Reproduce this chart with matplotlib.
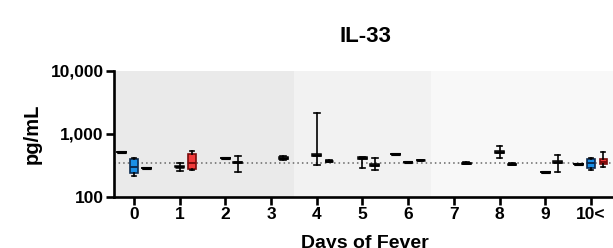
import matplotlib
matplotlib.use('Agg')
import matplotlib.pyplot as plt

plt.rcParams['font.family'] = ['Liberation Sans', 'DejaVu Sans']
plt.rcParams['font.weight'] = 'bold'

days = ['0', '1', '2', '3', '4', '5', '6', '7', '8', '9', '10<']
ref_line = 339

# one entry per box: day index, slot (-1 left, 0 centre, 1 right), colour
box_day = [0, 0, 0, 1, 1, 2, 2, 3, 4, 4, 5, 5, 6, 6, 6, 7, 8, 8, 9, 9, 10, 10, 10]
box_slot = [-1, 0, 1, 0, 1, 0, 1, 1, 0, 1, 0, 1, -1, 0, 1, 1, 0, 1, 0, 1, -1, 0, 1]
box_col = ['k', 'blue', 'k', 'k', 'red', 'k', 'k', 'k', 'k', 'k', 'k', 'k',
           'k', 'k', 'k', 'k', 'k', 'k', 'k', 'k', 'k', 'blue', 'red']
lo = [518, 215, 282, 259, 261, 416, 247, 380, 315, 360, 282, 262,
      471, 351, 365, 330, 407, 318, 249, 244, 327, 265, 300]
q1 = [518, 235, 282, 292, 272, 416, 340, 395, 445, 364, 395, 305,
      471, 351, 378, 336, 500, 323, 249, 340, 327, 282, 327]
med = [518, 300, 282, 300, 339, 416, 351, 407, 459, 369, 415, 315,
       471, 351, 383, 339, 518, 327, 249, 351, 327, 339, 359]
q3 = [518, 393, 282, 308, 476, 416, 360, 420, 475, 374, 420, 325,
      471, 351, 386, 343, 540, 331, 249, 362, 327, 393, 393]
hi = [518, 411, 282, 347, 537, 416, 443, 435, 2110, 378, 422, 410,
      471, 351, 388, 350, 638, 340, 249, 459, 327, 416, 505]

fill = {'k': 'white', 'blue': '#1a8fe6', 'red': '#f03a3a'}
edge = {'k': 'black', 'blue': '#0a2a50', 'red': '#7a0a0a'}

fig = plt.figure(figsize=(6.13, 2.48), dpi=100)
ax = fig.add_axes([0.186, 0.207, 0.8196, 0.508])

ax.axvspan(-0.44, 3.5, color='#eaeaea', lw=0, zorder=0)
ax.axvspan(3.5, 6.5, color='#f2f2f2', lw=0, zorder=0)
ax.axvspan(6.5, 10.56, color='#f8f8f8', lw=0, zorder=0)
ax.axhline(ref_line, color='#666666', ls=(0, (1, 2)), lw=1.1, zorder=1)

for i in range(len(box_day)):
    c = box_col[i]
    single = lo[i] == hi[i]
    st = [dict(whislo=lo[i], q1=q1[i], med=med[i], q3=q3[i], whishi=hi[i])]
    pos = box_day[i] + 0.27 * box_slot[i]
    if c == 'k':
        w = 0.19
        lw = 2.2 if single else 1.1
        ax.bxp(st, positions=[pos], widths=w, capwidths=w if single else 0.13,
               showfliers=False, patch_artist=True,
               boxprops=dict(facecolor='white', edgecolor='black', linewidth=lw),
               medianprops=dict(color='black', linewidth=2.2 if single else 1.8),
               whiskerprops=dict(color='black', lw=1.2),
               capprops=dict(color='black', lw=1.2), manage_ticks=False, zorder=3)
    else:
        ax.bxp(st, positions=[pos], widths=0.16, capwidths=0.1,
               showfliers=False, patch_artist=True,
               boxprops=dict(facecolor=fill[c], edgecolor=edge[c], linewidth=1.2),
               medianprops=dict(color=edge[c], linewidth=1.4),
               whiskerprops=dict(color='black', lw=1.2),
               capprops=dict(color='black', lw=1.2), manage_ticks=False, zorder=3)

ax.set_yscale('log')
ax.set_ylim(100, 10000)
ax.set_yticks([100, 1000, 10000])
ax.set_yticklabels(['100', '1,000', '10,000'])
ax.minorticks_off()
ax.set_xlim(-0.44, 10.56)
ax.set_xticks(range(len(days)))
ax.set_xticklabels(days)

for s in ['top', 'right']:
    ax.spines[s].set_visible(False)
for s in ['left', 'bottom']:
    ax.spines[s].set_linewidth(1.9)
    ax.spines[s].set_zorder(5)
ax.tick_params(width=1.9, length=5.5, labelsize=12.5, pad=2)

ax.set_ylabel('pg/mL', fontsize=14.5, fontweight='bold', labelpad=6)
ax.set_xlabel('Days of Fever', fontsize=14, fontweight='bold', labelpad=9)
ax.set_title('IL-33', fontsize=16, fontweight='bold', pad=21)

fig.savefig('out.png', dpi=100)
